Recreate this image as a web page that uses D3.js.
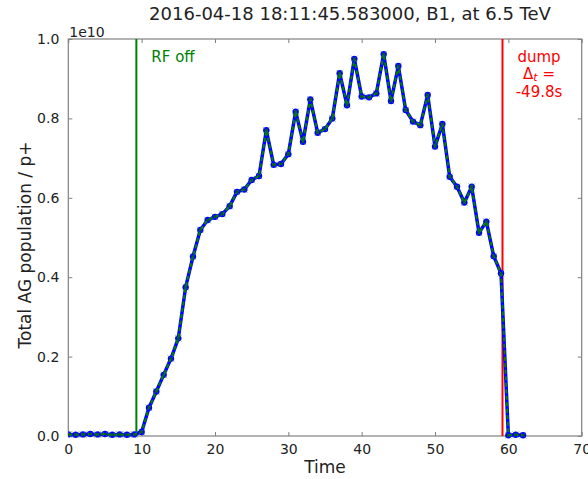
<!DOCTYPE html>
<html>
<head>
<meta charset="utf-8">
<script src="https://cdn.jsdelivr.net/npm/d3@7"></script>
<style>
  html, body { margin: 0; padding: 0; background: #fff; }
  svg { display: block; font-family: "DejaVu Sans", sans-serif; }
</style>
</head>
<body>
<svg id="chart" width="588" height="479"></svg>
<script>
// Beam population over time (units of 1e10 protons)
const times = [0, 1, 2, 3, 4, 5, 6, 7, 8, 9,
  10, 11, 12, 13, 14, 15, 16, 17, 18, 19,
  20, 21, 22, 23, 24, 25, 26, 27, 28, 29,
  30, 31, 32, 33, 34, 35, 36, 37, 38, 39,
  40, 41, 42, 43, 44, 45, 46, 47, 48, 49,
  50, 51, 52, 53, 54, 55, 56, 57, 58, 59,
  60, 61, 62];
const population = [0.004, 0.003, 0.004, 0.005, 0.004, 0.005, 0.003, 0.004, 0.003, 0.004,
  0.010, 0.071, 0.112, 0.154, 0.195, 0.246, 0.375, 0.452, 0.519, 0.544,
  0.552, 0.559, 0.579, 0.615, 0.621, 0.645, 0.655, 0.770, 0.683, 0.685,
  0.710, 0.817, 0.741, 0.848, 0.764, 0.773, 0.800, 0.914, 0.833, 0.950,
  0.855, 0.853, 0.863, 0.962, 0.844, 0.932, 0.821, 0.792, 0.783, 0.859,
  0.729, 0.786, 0.653, 0.628, 0.588, 0.628, 0.512, 0.540, 0.453, 0.410,
  0.002, 0.003, 0.002];

const xTicks = [0, 10, 20, 30, 40, 50, 60, 70];
const yTicks = [0.0, 0.2, 0.4, 0.6, 0.8, 1.0];
const rfOffTime = 9.28;
const dumpTime = 59.2;
const titleText = "2016-04-18 18:11:45.583000, B1, at 6.5 TeV";

const svg = d3.select("#chart");
const mLeft = 68.3, mRight = 581.7, mTop = 39, mBottom = 436;

const x = d3.scaleLinear().domain([0, 70]).range([mLeft, mRight]);
const y = d3.scaleLinear().domain([0, 1]).range([mBottom, mTop]);

const textColor = "#222";
const spineColor = "#808080";

// Clip for data marks
svg.append("defs").append("clipPath").attr("id", "plotclip")
  .append("rect").attr("x", mLeft).attr("y", mTop - 6)
  .attr("width", mRight - mLeft).attr("height", mBottom - mTop + 12);

// Axes with inward ticks on all four sides
const tickLen = 4;
const gBottom = svg.append("g").attr("transform", `translate(0,${mBottom})`)
  .call(d3.axisBottom(x).tickValues(xTicks).tickFormat(d3.format("d"))
    .tickSizeInner(-tickLen).tickSizeOuter(0).tickPadding(8));
const gTop = svg.append("g").attr("transform", `translate(0,${mTop})`)
  .call(d3.axisTop(x).tickValues(xTicks).tickFormat("")
    .tickSizeInner(-tickLen).tickSizeOuter(0));
const gLeft = svg.append("g").attr("transform", `translate(${mLeft},0)`)
  .call(d3.axisLeft(y).tickValues(yTicks).tickFormat(d3.format(".1f"))
    .tickSizeInner(-tickLen).tickSizeOuter(0).tickPadding(9));
const gRight = svg.append("g").attr("transform", `translate(${mRight},0)`)
  .call(d3.axisRight(y).tickValues(yTicks).tickFormat("")
    .tickSizeInner(-tickLen).tickSizeOuter(0));

[gBottom, gTop, gLeft, gRight].forEach(g => {
  g.select(".domain").remove();
  g.selectAll(".tick line").attr("stroke", spineColor).attr("stroke-width", 1);
  g.selectAll(".tick text").attr("fill", textColor)
    .style("font-family", "DejaVu Sans").style("font-size", "14px");
});

// Frame
svg.append("rect")
  .attr("x", mLeft).attr("y", mTop)
  .attr("width", mRight - mLeft).attr("height", mBottom - mTop)
  .attr("fill", "none").attr("stroke", spineColor).attr("stroke-width", 1.2);

// Offset label for the y axis
svg.append("text").attr("x", mLeft + 1).attr("y", 37)
  .attr("fill", textColor).style("font-size", "14px").text("1e10");

// Title
svg.append("text").attr("x", 350).attr("y", 20).attr("text-anchor", "middle")
  .attr("fill", textColor).style("font-size", "18px").text(titleText);

// Axis labels
svg.append("text").attr("x", (mLeft + mRight) / 2).attr("y", 473)
  .attr("text-anchor", "middle").attr("fill", textColor)
  .style("font-size", "17px").text("Time");
svg.append("text")
  .attr("transform", `translate(31,245) rotate(-90)`)
  .attr("text-anchor", "middle").attr("fill", textColor)
  .style("font-size", "17px").text("Total AG population / p+");

// Event markers
svg.append("line").attr("x1", x(rfOffTime)).attr("x2", x(rfOffTime))
  .attr("y1", mTop).attr("y2", mBottom)
  .attr("stroke", "#008000").attr("stroke-width", 2);
svg.append("line").attr("x1", x(dumpTime)).attr("x2", x(dumpTime))
  .attr("y1", mTop).attr("y2", mBottom)
  .attr("stroke", "#ff0000").attr("stroke-width", 2);

svg.append("text").attr("x", x(rfOffTime) + 15).attr("y", 62)
  .attr("fill", "#008000").style("font-size", "15px").text("RF off");

const dumpX = 539;
svg.append("text").attr("x", dumpX).attr("y", 62).attr("text-anchor", "middle")
  .attr("fill", "#ff0000").style("font-size", "15px").text("dump");
const delta = svg.append("text").attr("x", dumpX).attr("y", 79).attr("text-anchor", "middle")
  .attr("fill", "#ff0000").style("font-size", "15px")
  .html('\u0394<tspan dy="2" font-size="11" font-style="italic">t</tspan><tspan dy="-2"> =</tspan>');
svg.append("text").attr("x", dumpX).attr("y", 97).attr("text-anchor", "middle")
  .attr("fill", "#ff0000").style("font-size", "15px").text("-49.8s");

// Data series
const pts = times.map((t, i) => [t, population[i]]);
const line = d3.line().x(d => x(d[0])).y(d => y(d[1]));
const plot = svg.append("g").attr("clip-path", "url(#plotclip)");

plot.append("path").datum(pts).attr("d", line)
  .attr("fill", "none").attr("stroke", "#0000ff").attr("stroke-width", 3.5)
  .attr("stroke-linejoin", "round");
plot.selectAll("circle.pt").data(pts).join("circle").attr("class", "pt")
  .attr("cx", d => x(d[0])).attr("cy", d => y(d[1])).attr("r", 3.2)
  .attr("fill", "#0000ff");
plot.append("path").datum(pts).attr("d", line)
  .attr("fill", "none").attr("stroke", "#008000").attr("stroke-width", 2)
  .attr("stroke-dasharray", "4,2.5");
const xs = 3.5;
plot.selectAll("path.xm").data(pts).join("path").attr("class", "xm")
  .attr("d", d => {
    const cx = x(d[0]), cy = y(d[1]);
    return `M${cx - xs},${cy - xs}L${cx + xs},${cy + xs}M${cx - xs},${cy + xs}L${cx + xs},${cy - xs}`;
  })
  .attr("stroke", "#3a9a3a").attr("stroke-opacity", 0.45).attr("stroke-width", 1)
  .attr("fill", "none");
plot.selectAll("circle.ctr").data(pts).join("circle").attr("class", "ctr")
  .attr("cx", d => x(d[0])).attr("cy", d => y(d[1])).attr("r", 1.3)
  .attr("fill", "#006400");
</script>
</body>
</html>
